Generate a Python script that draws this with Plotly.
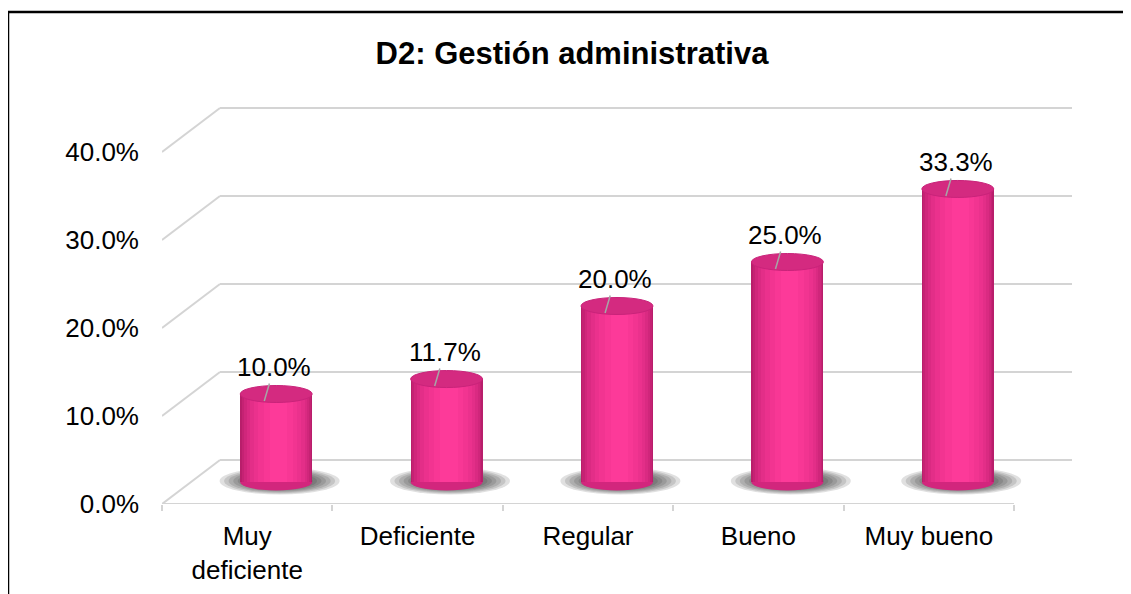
import plotly.graph_objects as go

# ---- data ----
categories = ["Muy<br>deficiente", "Deficiente", "Regular", "Bueno", "Muy bueno"]
values_pct = [10.0, 11.7, 20.0, 25.0, 33.3]
y_ticks = [0.0, 0.1, 0.2, 0.3, 0.4]
title_text = "D2: Gestión administrativa"

# ---- geometry / style (page pixel layout; the page body has an 8px margin) ----
OFF = 8
PAGE_W, PAGE_H = 1131, 594
W, H = PAGE_W - OFF, PAGE_H - OFF
L, R_PX, T, B_PX = 162, 1072, 100, 504     # plot area in page pixels
PX_PER_UNIT_Y = 880.0
BAND_PX = 170.4
plot_w = R_PX - L
plot_h = B_PX - T
y_top = plot_h / PX_PER_UNIT_Y
DX = 58 / BAND_PX
DY = 44 / PX_PER_UNIT_Y
x_right = -0.5 + plot_w / BAND_PX

BAR_SHIFT = DX / 2
BAR_BASE = DY / 2
BAR_W = 72 / BAND_PX
ELL_H = 8.5 / PX_PER_UNIT_Y

FONT = "Liberation Sans, Arial, sans-serif"
GRID = "#D4D4D4"

fig = go.Figure()
vals = [v / 100 for v in values_pct]

# cylinder body: overlaid bars of decreasing width for a smooth shading
layers = [
    (1.00, 0.000, "#B81E6B"),
    (0.96, 0.000, "#C52273"),
    (0.91, 0.002, "#D0267B"),
    (0.84, 0.004, "#DA2A82"),
    (0.76, 0.006, "#E32E88"),
    (0.66, 0.008, "#EB318D"),
    (0.54, 0.010, "#F23491"),
    (0.40, 0.012, "#F83795"),
    (0.24, 0.014, "#FD3A99"),
]
for frac, sh, col in layers:
    w = BAR_W * frac
    fig.add_trace(go.Bar(
        x=categories, y=vals, base=BAR_BASE,
        width=w, offset=BAR_SHIFT + sh - w / 2,
        marker=dict(color=col, line=dict(width=0)),
        hoverinfo="skip", showlegend=False,
    ))

shapes = []
for t in y_ticks:
    shapes.append(dict(type="line", xref="x", yref="y", x0=-0.5, y0=t, x1=-0.5 + DX, y1=t + DY,
                       line=dict(color=GRID, width=2), layer="below"))
    shapes.append(dict(type="line", xref="x", yref="y", x0=-0.5 + DX, y0=t + DY, x1=x_right, y1=t + DY,
                       line=dict(color=GRID, width=2), layer="below"))
shapes.append(dict(type="line", xref="x", yref="y", x0=-0.5, y0=0, x1=len(categories) - 0.5, y1=0,
                   line=dict(color=GRID, width=2), layer="below"))

for i, v in enumerate(vals):
    cx = i + BAR_SHIFT
    cy = BAR_BASE + 1 / PX_PER_UNIT_Y
    n = 9
    for k in range(n):
        f = 1.0 - k * 0.075
        hw = 60 / BAND_PX * f
        hh = 13.5 / PX_PER_UNIT_Y * f
        shapes.append(dict(type="circle", xref="x", yref="y",
                           x0=cx + 0.02 - hw, x1=cx + 0.02 + hw, y0=cy - hh, y1=cy + hh,
                           fillcolor="#222222", opacity=0.14, line=dict(width=0), layer="below"))
    shapes.append(dict(type="circle", xref="x", yref="y",
                       x0=cx - BAR_W / 2, x1=cx + BAR_W / 2, y0=BAR_BASE - ELL_H, y1=BAR_BASE + ELL_H,
                       fillcolor="#D2267D", line=dict(width=0), layer="below"))
    top = v + BAR_BASE
    shapes.append(dict(type="circle", xref="x", yref="y",
                       x0=cx - BAR_W / 2, x1=cx + BAR_W / 2, y0=top - ELL_H, y1=top + ELL_H,
                       fillcolor="#D42A80", line=dict(color="#C9237A", width=1), layer="above"))

# outer frame of the chart area
shapes.append(dict(type="rect", xref="paper", yref="paper",
                   x0=(8 - L) / plot_w, x1=(1145 - L) / plot_w,
                   y0=(B_PX - 610) / plot_h, y1=(B_PX - 12) / plot_h,
                   line=dict(color="black", width=2.5), fillcolor="rgba(0,0,0,0)"))

annotations = []
for i, (v, p) in enumerate(zip(vals, values_pct)):
    annotations.append(dict(
        x=i + BAR_SHIFT - 0.07, y=v + BAR_BASE - 7 / PX_PER_UNIT_Y, xref="x", yref="y",
        text=f"{p:.1f}%", showarrow=True, arrowhead=0, arrowwidth=1.5, arrowcolor="#A6A6A6",
        ax=10, ay=-34, standoff=0, startstandoff=0,
        font=dict(family=FONT, size=26, color="black"),
    ))

fig.update_layout(
    width=W, height=H,
    margin=dict(l=L - OFF, r=(OFF + W) - R_PX, t=T - OFF, b=(OFF + H) - B_PX, pad=0,
                autoexpand=False),
    paper_bgcolor="white", plot_bgcolor="white",
    barmode="overlay", bargap=0,
    showlegend=False,
    title=dict(text=f"<b>{title_text}</b>", x=(572 - OFF) / W, xref="container", xanchor="center",
               y=1 - (53 - OFF) / H, yref="container", yanchor="middle",
               font=dict(family=FONT, size=31, color="black"), automargin=False),
    font=dict(family=FONT, size=26, color="black"),
    shapes=shapes, annotations=annotations,
    xaxis=dict(type="category", categoryorder="array", categoryarray=categories,
               range=[-0.5, x_right], showgrid=False, zeroline=False, showline=False,
               ticks="outside", tickson="boundaries", ticklen=6, tickwidth=2, tickcolor=GRID,
               ticklabelstandoff=14, automargin=False,
               tickfont=dict(family=FONT, size=26, color="black"), fixedrange=True),
    yaxis=dict(range=[0, y_top], tickvals=y_ticks, tickformat=".1%",
               showgrid=False, zeroline=False, showline=False, ticks="",
               ticklabelstandoff=22, automargin=False,
               tickfont=dict(family=FONT, size=26, color="black"), fixedrange=True),
)

fig.write_html("out.html")
